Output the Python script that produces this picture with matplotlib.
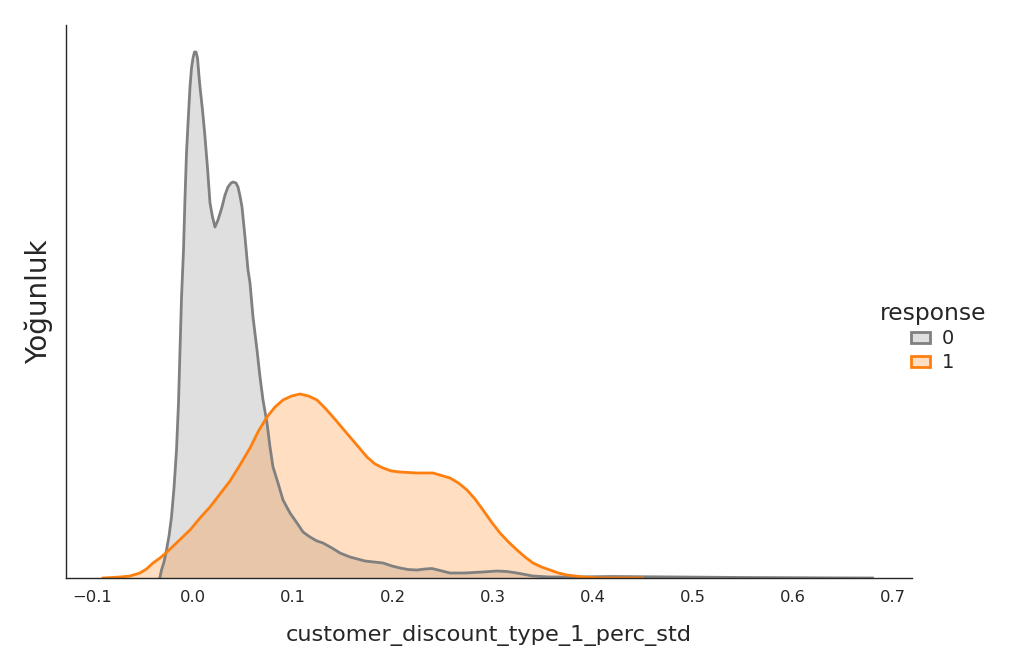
import matplotlib
matplotlib.use("Agg")
import matplotlib.pyplot as plt
from matplotlib.patches import Patch
from matplotlib.colors import to_rgba

# ---- data (KDE curves, arbitrary density units) ----
x_resp0 = [-0.0325, -0.031, -0.0285, -0.026, -0.0235, -0.021, -0.0185, -0.016, -0.014,
           -0.0125, -0.011, -0.009, -0.0075, -0.006, -0.0042, -0.0025, -0.001, 0.0005,
           0.002, 0.0035, 0.005, 0.0065, 0.0075, 0.01, 0.0125, 0.015, 0.0175, 0.02,
           0.0225, 0.0255, 0.0295, 0.0325, 0.0355, 0.0385, 0.0405, 0.0435, 0.0455,
           0.0475, 0.0495, 0.0525, 0.0555, 0.0575, 0.0605, 0.0645, 0.0675, 0.0705,
           0.0745, 0.0775, 0.0805, 0.0855, 0.0905, 0.0975, 0.1045, 0.1105, 0.1175,
           0.1245, 0.1305, 0.1395, 0.1475, 0.1575, 0.1725, 0.1905, 0.1995, 0.2075,
           0.2155, 0.2245, 0.2325, 0.2395, 0.2475, 0.2575, 0.2725, 0.29, 0.3045,
           0.3145, 0.3245, 0.3325, 0.34, 0.3575, 0.38, 0.42, 0.46, 0.5, 0.55, 0.6,
           0.64, 0.68]
y_resp0 = [0.01, 0.08, 0.16, 0.28, 0.42, 0.61, 0.90, 1.28, 1.75,
           2.28, 2.80, 3.28, 3.80, 4.25, 4.60, 4.91, 5.10, 5.20,
           5.26, 5.26, 5.20, 5.02, 4.91, 4.68, 4.41, 4.10, 3.75, 3.61,
           3.51, 3.58, 3.71, 3.83, 3.91, 3.95, 3.96, 3.95, 3.91,
           3.82, 3.71, 3.41, 3.08, 2.95, 2.61, 2.28, 2.01, 1.78,
           1.55, 1.31, 1.11, 0.95, 0.78, 0.65, 0.55, 0.46, 0.41,
           0.37, 0.35, 0.30, 0.25, 0.21, 0.17, 0.15, 0.12, 0.10,
           0.085, 0.08, 0.09, 0.095, 0.075, 0.05, 0.05, 0.06, 0.07,
           0.065, 0.05, 0.035, 0.02, 0.01, 0.01, 0.015, 0.012, 0.009, 0.005, 0.003,
           0.001, 0.0]

x_resp1 = [-0.0895, -0.08, -0.0725, -0.0625, -0.0525, -0.046, -0.0395, -0.0325,
           -0.0255, -0.014, -0.0025, 0.0075, 0.0175, 0.0275, 0.0375, 0.0475, 0.0575,
           0.066, 0.0745, 0.0825, 0.0905, 0.099, 0.1075, 0.116, 0.1245, 0.1325,
           0.1405, 0.149, 0.1575, 0.166, 0.1745, 0.1825, 0.1905, 0.199, 0.2075,
           0.2245, 0.2405, 0.2575, 0.266, 0.2745, 0.2825, 0.2905, 0.299, 0.3075,
           0.316, 0.3245, 0.3325, 0.3405, 0.349, 0.3575, 0.366, 0.3745, 0.3905,
           0.4075, 0.45]
y_resp1 = [0.0, 0.005, 0.01, 0.02, 0.05, 0.09, 0.15, 0.20,
           0.26, 0.37, 0.48, 0.60, 0.71, 0.84, 0.97, 1.13, 1.30,
           1.47, 1.61, 1.71, 1.78, 1.82, 1.84, 1.82, 1.78, 1.70,
           1.61, 1.51, 1.41, 1.31, 1.21, 1.14, 1.10, 1.07, 1.06,
           1.05, 1.05, 1.00, 0.95, 0.88, 0.79, 0.68, 0.56, 0.45,
           0.36, 0.28, 0.21, 0.15, 0.11, 0.08, 0.05, 0.03, 0.01,
           0.0, 0.0]

hue_labels = ["0", "1"]
line_colors = ["#808080", "#ff7f0e"]

fig = plt.figure(figsize=(10.15, 6.51), dpi=100)
ax = fig.add_axes([66 / 1015, 73 / 651, (912 - 66) / 1015, (578 - 25) / 651])

series = [(x_resp0, y_resp0), (x_resp1, y_resp1)]
for (xs, ys), c in zip(series, line_colors):
    ax.fill_between(xs, ys, 0, color=c, alpha=0.25, linewidth=0)
    ax.plot(xs, ys, color=c, linewidth=2, solid_joinstyle="round")

ax.set_xlim(-0.1265, 0.7195)
ax.set_ylim(0, 5.53)
ax.set_yticks([])
ax.set_xticks([-0.1, 0.0, 0.1, 0.2, 0.3, 0.4, 0.5, 0.6, 0.7])
ax.set_xticklabels(["\u22120.1", "0.0", "0.1", "0.2", "0.3", "0.4", "0.5", "0.6", "0.7"])
ax.tick_params(axis="x", labelsize=11.8, colors="#262626", length=0, pad=9)
for s in ["top", "right"]:
    ax.spines[s].set_visible(False)
for s in ["left", "bottom"]:
    ax.spines[s].set_color("#262626")
    ax.spines[s].set_linewidth(1.0)

ax.set_xlabel("customer_discount_type_1_perc_std", fontsize=16.2, color="#262626", labelpad=14)
ax.set_ylabel("Yoğunluk", fontsize=20, color="#262626", labelpad=9)

handles = [Patch(facecolor=to_rgba(c, 0.25), edgecolor=c, linewidth=2) for c in line_colors]
leg = fig.legend(handles, hue_labels, title="response", loc="center left",
                 bbox_to_anchor=(862 / 1015, 1 - 337 / 651), frameon=False,
                 fontsize=14, title_fontsize=16.8, handlelength=1.0, handleheight=0.45,
                 handletextpad=0.6, labelspacing=0.25)
for t in leg.get_texts():
    t.set_color("#262626")
leg.get_title().set_color("#262626")

fig.savefig("out.png", dpi=100)
